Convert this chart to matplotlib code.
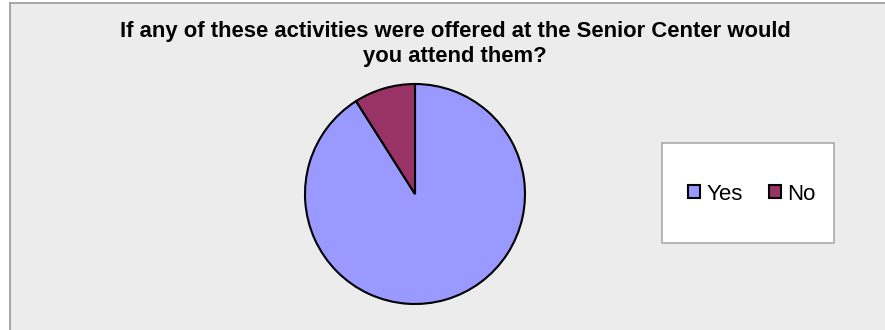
import matplotlib
matplotlib.use("Agg")
import matplotlib.pyplot as plt
from matplotlib.patches import Rectangle, Patch
from matplotlib.lines import Line2D

labels = ["Yes", "No"]
values = [91, 9]
colors = ["#9999ff", "#993366"]
title = "If any of these activities were offered at the Senior Center would\nyou attend them?"

W, H = 885, 330
fig = plt.figure(figsize=(W / 100, H / 100), dpi=100, facecolor="white")
plt.rcParams["font.family"] = ["Liberation Sans", "DejaVu Sans"]


def fx(px):
    return px / W


def fy(py):
    return 1 - py / H


# chart area background with left/top border
fig.patches.append(Rectangle((fx(10), 0), 1 - fx(10), fy(3), transform=fig.transFigure,
                             facecolor="#ececec", edgecolor="none", zorder=-2))
fig.lines.append(Line2D([fx(10), fx(10)], [0, fy(3)], transform=fig.transFigure,
                        color="#999999", linewidth=1.2, zorder=-1))
fig.lines.append(Line2D([fx(10), 1], [fy(3), fy(3)], transform=fig.transFigure,
                        color="#999999", linewidth=1.2, zorder=-1))

fig.text(fx(455), fy(44), title, ha="center", va="center", fontsize=15.8,
         fontweight="bold", linespacing=1.2)

# pie
cx, cy, r = 415, 194, 110
ax = fig.add_axes([fx(cx - r), fy(cy + r), 2 * r / W, 2 * r / H])
ax.set_zorder(3)
ax.pie(values, colors=colors, startangle=90, counterclock=False, radius=1,
       wedgeprops=dict(edgecolor="black", linewidth=1.5))
ax.set_xlim(-1.0, 1.0)
ax.set_ylim(-1.0, 1.0)
ax.set_aspect("equal")
ax.axis("off")

# legend box
fig.patches.append(Rectangle((fx(662), fy(243)), fx(834) - fx(662), fy(143) - fy(243),
                             transform=fig.transFigure, facecolor="white",
                             edgecolor="#aaaaaa", linewidth=1.2, zorder=1))
handles = [Patch(facecolor=c, edgecolor="black", linewidth=1.5) for c in colors]
leg = fig.legend(handles, labels, loc="center", bbox_to_anchor=(fx(752), fy(194)), ncol=2,
                 frameon=False, fontsize=16, handlelength=0.54, handleheight=0.54,
                 handletextpad=0.3, columnspacing=1.15)
leg.set_zorder(4)

fig.savefig("out.png", dpi=100)
